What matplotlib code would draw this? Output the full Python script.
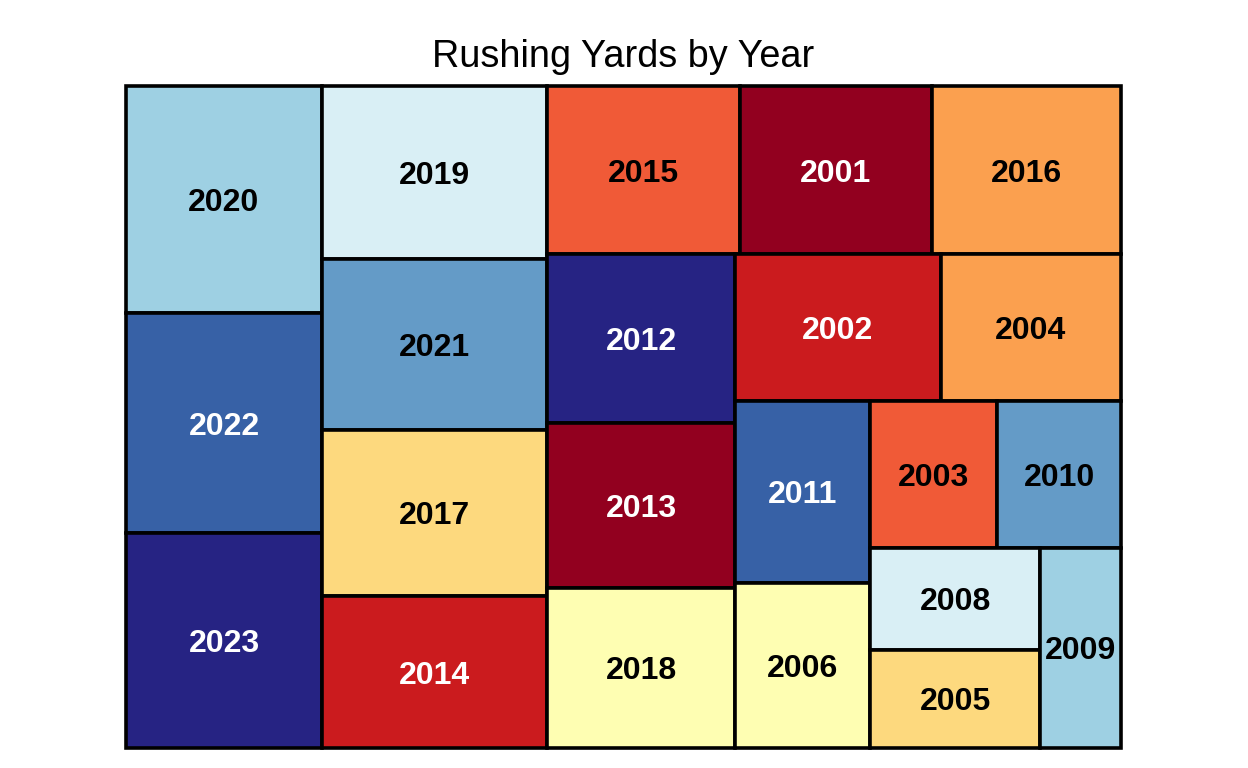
import matplotlib
matplotlib.use("Agg")
import matplotlib.pyplot as plt
from matplotlib.patches import Rectangle
from matplotlib.colors import to_rgb

# rushing yards per season (read from the tile areas)
years = ["2020", "2022", "2023", "2019", "2021", "2017", "2014", "2015", "2001", "2016", "2012",
         "2013", "2018", "2002", "2004", "2011", "2006", "2003", "2010", "2008", "2005", "2009"]
yards = [2225, 2156, 2107, 1946, 1924, 1868, 1710, 1621, 1613, 1590, 1588,
         1551, 1510, 1508, 1323, 1229, 1114, 933, 911, 867, 833, 810]

# 11-colour RdYlBu palette, cycled over the seasons in year order
palette = ["#92001f", "#cb1b1e", "#f05a37", "#fba04f", "#fdd97e", "#fefeb2",
           "#d9eff5", "#9ed0e3", "#649bc7", "#3761a6", "#262383"]

# layout box (squarify works in these units, then it is stretched to the axes)
BOX_W, BOX_H = 137.0, 100.0


def worst_ratio(sizes, dx, dy):
    total = sum(sizes)
    if dx >= dy:
        w = total / dy
        return max(max(w / (s / w), (s / w) / w) for s in sizes)
    h = total / dx
    return max(max(h / (s / h), (s / h) / h) for s in sizes)


def layout(sizes, x, y, dx, dy):
    rects = []
    total = sum(sizes)
    if dx >= dy:
        w = total / dy
        for s in sizes:
            rects.append((x, y, w, s / w))
            y += s / w
    else:
        h = total / dx
        for s in sizes:
            rects.append((x, y, s / h, h))
            x += s / h
    return rects


def squarify(sizes, x, y, dx, dy):
    if not sizes:
        return []
    if len(sizes) == 1:
        return layout(sizes, x, y, dx, dy)
    i = 1
    while i < len(sizes) and worst_ratio(sizes[:i], dx, dy) >= worst_ratio(sizes[:i + 1], dx, dy):
        i += 1
    cur, rest = sizes[:i], sizes[i:]
    total = sum(cur)
    if dx >= dy:
        w = total / dy
        nx, ny, ndx, ndy = x + w, y, dx - w, dy
    else:
        h = total / dx
        nx, ny, ndx, ndy = x, y + h, dx, dy - h
    return layout(cur, x, y, dx, dy) + squarify(rest, nx, ny, ndx, ndy)


plt.rcParams['font.family'] = ['Liberation Sans', 'DejaVu Sans']

total = float(sum(yards))
norm = [v * BOX_W * BOX_H / total for v in yards]
rects = squarify(norm, 0.0, 0.0, BOX_W, BOX_H)

order = sorted(years)
colors = {yr: palette[i % len(palette)] for i, yr in enumerate(order)}

fig = plt.figure(figsize=(12.48, 7.68), dpi=100)
ax = fig.add_axes([126 / 1248, 1 - 748 / 768, 995 / 1248, 662 / 768])

for yr, (x, y, w, h) in zip(years, rects):
    c = colors[yr]
    ax.add_patch(Rectangle((x, y), w, h, facecolor=c, edgecolor="black",
                           linewidth=2.6, clip_on=False))
    r, g, b = to_rgb(c)
    bright = 0.299 * r + 0.587 * g + 0.114 * b
    ax.text(x + w / 2, y + h / 2, yr, ha="center", va="center_baseline",
            fontsize=23, fontweight="bold",
            color="white" if bright < 0.45 else "black")

ax.set_xlim(0, BOX_W)
ax.set_ylim(BOX_H, 0)
ax.axis("off")
ax.set_title("Rushing Yards by Year", fontsize=27.3, pad=13.5)

fig.savefig("out.png", dpi=100)
